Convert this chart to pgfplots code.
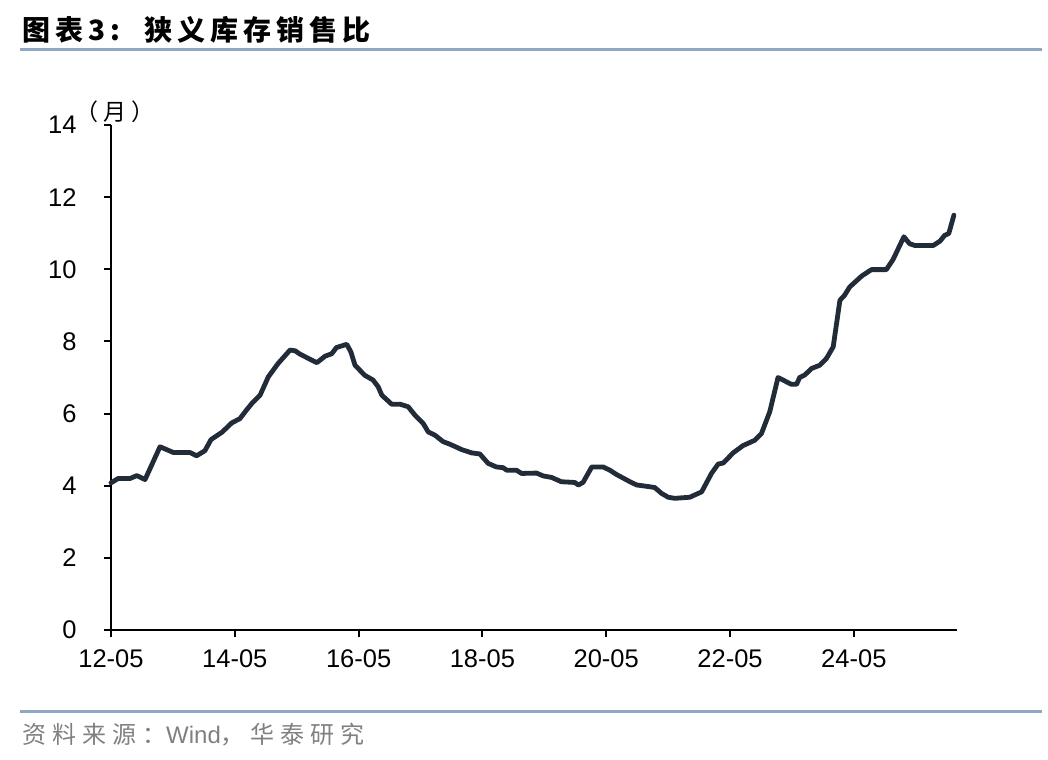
\documentclass[border=0pt]{standalone}
\usepackage{pgfplots}
\pgfplotsset{compat=1.18}
\usepackage{fontspec}
\setmainfont{Liberation Sans}
\newfontfamily\cjk[LetterSpace=20]{Noto Sans CJK SC}
\newfontfamily\cjkb[LetterSpace=18]{Noto Sans CJK SC Bold}
\newfontfamily\cjkf[LetterSpace=25]{Noto Sans CJK SC}
\definecolor{lineclr}{HTML}{222B38}
\definecolor{rule}{HTML}{8EA9C1}
\definecolor{foot}{HTML}{808080}
\begin{document}
\begin{tikzpicture}[x=1bp,y=1bp]
\useasboundingbox (0,0) rectangle (1048,760);
\draw[rule, line width=3bp] (20,710) -- (1042,710);
\draw[rule, line width=3bp] (20,48) -- (1042,48);
\node[anchor=west, inner sep=0] at (22,730) {\fontsize{28bp}{32bp}\selectfont\bfseries\cjkb 图表3:\hspace{24bp}狭义库存销售比};
\node[anchor=west, inner sep=0, text=foot] at (22,25) {\fontsize{24bp}{28bp}\selectfont\cjkf 资料来源：\rmfamily Wind\cjkf ，华泰研究};
\begin{axis}[
  at={(111bp,130bp)}, anchor=south west,
  scale only axis, width=846bp, height=505bp,
  xmin=0, xmax=164, ymin=0, ymax=14,
  axis x line*=bottom, axis y line*=left,
  axis line style={line width=2.2bp, black, -},
  xtick={0,24,48,72,96,120,144},
  xticklabels={12-05,14-05,16-05,18-05,20-05,22-05,24-05},
  ytick={0,2,4,6,8,10,12,14},
  tick align=outside,
  major tick length=7bp,
  tick style={line width=2bp, black},
  ticklabel style={font=\fontsize{25.5bp}{29bp}\selectfont},
  /pgf/number format/assume math mode=true,
  xticklabel style={yshift=-9bp},
  yticklabel style={xshift=-24bp},
  clip=false,
]
\addplot[lineclr, line width=4.8bp, line join=round, line cap=round] coordinates {
(0,4.08) (1.4,4.2) (3.7,4.2) (5,4.28) (6.6,4.17) (9.5,5.08) (12.1,4.92) (15.3,4.92)
(16.6,4.83) (18.2,4.97) (19.4,5.28) (21.5,5.48) (23.4,5.74) (25,5.86) (26,6.05)
(27.3,6.28) (28.9,6.51) (30.5,7.02) (32.4,7.39) (34.7,7.76) (35.7,7.74) (36.6,7.65)
(39.9,7.41) (41.5,7.59) (42.8,7.66) (43.7,7.83) (45.7,7.92) (46.5,7.71) (47.3,7.34)
(49.2,7.06) (50.8,6.93) (51.8,6.74) (52.5,6.51) (54.4,6.26) (56,6.26) (57.6,6.19)
(58.9,5.96) (60.5,5.73) (61.5,5.49) (62.8,5.40) (64.4,5.22) (65.7,5.15) (68,5.0)
(69.9,4.91) (71.5,4.88) (73.1,4.62) (74.7,4.52) (76,4.50) (76.7,4.43) (78.6,4.43)
(79.6,4.34) (82.5,4.35) (83.8,4.27) (85.4,4.23) (87.3,4.11) (89.9,4.09) (90.6,4.02)
(91.5,4.09) (93.2,4.52) (95.4,4.52) (96.7,4.43) (98,4.31) (100.6,4.11) (101.9,4.02)
(103.5,3.99) (105.4,3.95) (106.7,3.79) (108,3.68) (109.3,3.65) (112.2,3.68) (114.5,3.83)
(116.4,4.34) (117.7,4.60) (118.7,4.63) (120.6,4.91) (122.5,5.11) (124.8,5.26) (126.1,5.45)
(127.7,6.05) (129.3,7.0) (131.9,6.81) (132.9,6.81) (133.5,7.0) (134.5,7.07) (135.8,7.25)
(137.4,7.34) (138.7,7.53) (140,7.85) (141.3,9.14) (142.2,9.28) (143.2,9.51) (145.5,9.81)
(147.4,9.99) (150.3,9.99) (151.6,10.27) (153.7,10.90) (154.8,10.71) (155.8,10.66) (159.4,10.66)
(160.7,10.78) (161.6,10.94) (162.4,10.99) (163.4,11.50)
};
\node[anchor=south, inner sep=0] at (axis cs:0,14) [xshift=4bp, yshift=2bp] {\fontsize{23bp}{26bp}\selectfont\cjk （月）};
\end{axis}
\end{tikzpicture}
\end{document}
